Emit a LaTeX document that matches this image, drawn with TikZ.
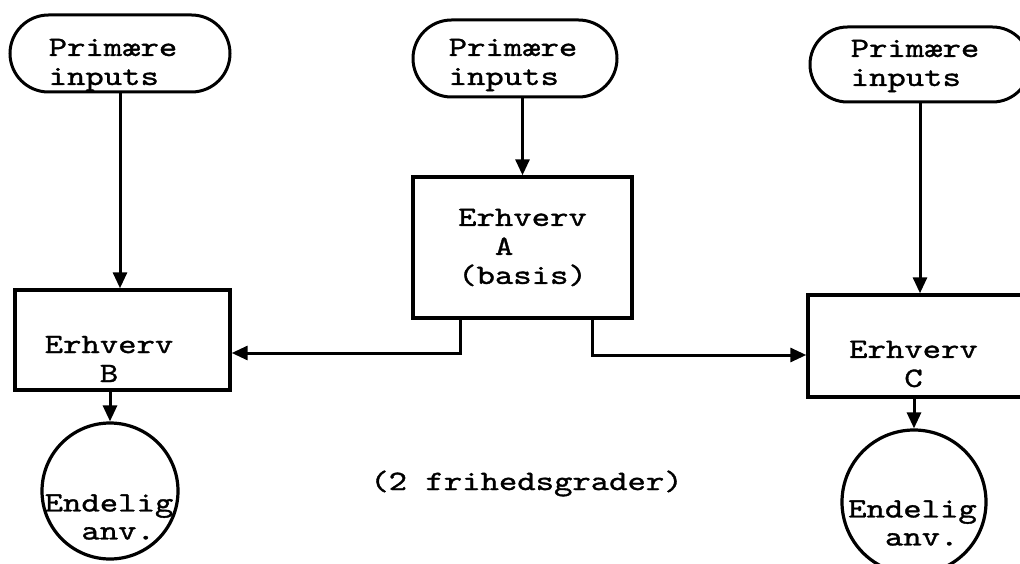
\documentclass[tikz,border=0pt]{standalone}
\usepackage{fontspec}
\setmonofont{lmmono10-regular.otf}[FakeStretch=1.25,FakeBold=1.2]
\usetikzlibrary{shapes.misc,arrows.meta,positioning,calc}

\begin{document}
\begin{tikzpicture}[x=1pt, y=-1pt, >={Triangle[length=16pt,width=14pt]},
  pill/.style={rounded rectangle, draw, line width=3pt, inner sep=0pt},
  box/.style={rectangle, draw, line width=3.4pt, inner sep=0pt, align=left, font=\ttfamily\fontsize{28}{29}\selectfont},
  usage/.style={circle, draw, line width=3.2pt, inner sep=0pt},
  txt/.style={align=left, inner sep=0pt, font=\ttfamily\fontsize{28}{29}\selectfont},
  usetxt/.style={align=left, inner sep=0pt, font=\ttfamily\fontsize{28}{28}\selectfont},
  arrow/.style={->, line width=3pt}]

  \useasboundingbox (0,0) rectangle (1020,564);

  % Primary inputs
  \node[pill, minimum width=220pt, minimum height=77pt] (inL) at (120,53.5) {};
  \node[txt] (inLtext) at (113,65) {Primære\\inputs};
  \node[pill, minimum width=204pt, minimum height=77pt] (inM) at (515,58.5) {};
  \node[txt] (inMtext) at (513,65) {Primære\\inputs};
  \node[pill, minimum width=220pt, minimum height=75pt] (inR) at (920,64.5) {};
  \node[txt] (inRtext) at (915,66) {Primære\\inputs};

  % Industries
  \node[box, minimum width=219pt, minimum height=141pt] (A) at (522.5,247.5) {Erhverv\\\phantom{Er}A\\(basis)};
  \node[box, minimum width=215pt, minimum height=100pt] (B) at (122.5,340) {};
  \node[txt] (Btext) at (109,359) {Erhverv\\\phantom{Erh}B};
  \node[box, minimum width=222pt, minimum height=102pt] (C) at (919,346) {};
  \node[txt] (Ctext) at (913.5,364) {Erhverv\\\phantom{Erh}C};

  % Final use
  \node[usage, minimum size=136pt] (useB) at (110,491) {};
  \node[usetxt] (useBtext) at (109,517) {Endelig\\\phantom{En}anv.};
  \node[usage, minimum size=144pt] (useC) at (914,502) {};
  \node[usetxt] (useCtext) at (912.5,523) {Endelig\\\phantom{En}anv.};

  \node[txt] (dof) at (526.5,483.5) {(2 frihedsgrader)};

  % Arrows
  \draw[arrow] (inL.south) -- (inL.south |- B.north);
  \draw[arrow] (A.north |- inM.south) -- (A.north);
  \draw[arrow] (inR.south) -- (inR.south |- C.north);
  \draw[arrow] ([xshift=-62pt]A.south) |- ([yshift=-13pt]B.east);
  \draw[arrow] ([xshift=70pt]A.south) |- ([yshift=-9pt]C.west);
  \draw[arrow] (B.south -| useB.north) -- (useB.north);
  \draw[arrow] (C.south -| useC.north) -- (useC.north);

\end{tikzpicture}
\end{document}
